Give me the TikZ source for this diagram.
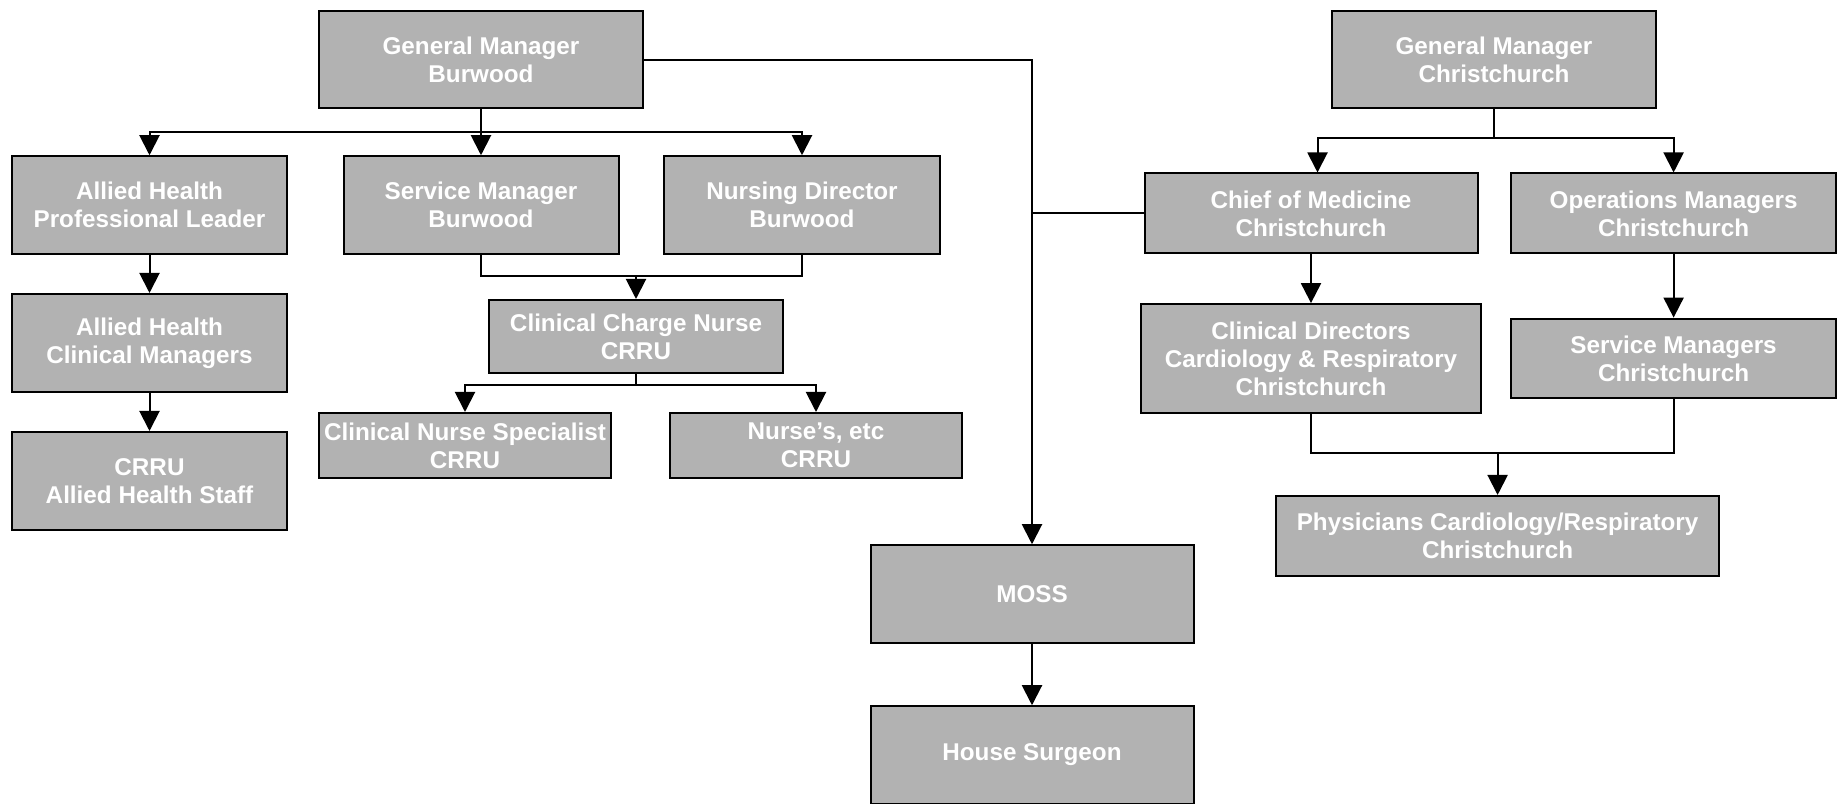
\documentclass[tikz,border=0pt]{standalone}
\usepackage{fontspec}
\setmainfont{Liberation Sans}
\usetikzlibrary{arrows.meta}
\definecolor{boxgray}{RGB}{178,178,178}

\begin{document}
\begin{tikzpicture}[x=0.4pt, y=-0.4pt, line width=0.8pt,
  orgbox/.style={draw=black, fill=boxgray, text=white, align=center, inner sep=0pt,
    font=\bfseries\fontsize{9.7}{11.2}\selectfont},
  arr/.style={-{Triangle[width=8pt,length=8pt]}}]
\useasboundingbox (0,0) rectangle (1847,804);

  % Burwood side
  \node[orgbox, minimum width=129.6pt, minimum height=38.8pt] (gmb) at (481,60) {General Manager\\Burwood};
  \node[orgbox, minimum width=110pt, minimum height=39pt] (ahpl) at (149.5,205) {Allied Health\\Professional Leader};
  \node[orgbox, minimum width=110pt, minimum height=39pt] (smb) at (481,205) {Service Manager\\Burwood};
  \node[orgbox, minimum width=110.4pt, minimum height=39pt] (ndb) at (802,205) {Nursing Director\\Burwood};
  \node[orgbox, minimum width=110pt, minimum height=39.2pt] (ahcm) at (149.5,343) {Allied Health\\Clinical Managers};
  \node[orgbox, minimum width=110pt, minimum height=39.2pt] (ahs) at (149.5,481) {CRRU\\Allied Health Staff};
  \node[orgbox, minimum width=117.6pt, minimum height=29.2pt] (ccn) at (636,336.5) {Clinical Charge Nurse\\CRRU};
  \node[orgbox, minimum width=116.8pt, minimum height=26pt] (cns) at (465,445.5) {Clinical Nurse Specialist\\CRRU};
  \node[orgbox, minimum width=116.8pt, minimum height=26pt] (nur) at (816,445.5) {Nurse’s, etc\\CRRU};

  % Medical staff
  \node[orgbox, minimum width=129.2pt, minimum height=39pt] (moss) at (1032,594) {MOSS};
  \node[orgbox, minimum width=129.2pt, minimum height=39pt] (hs) at (1032,755) {House Surgeon};

  % Christchurch side
  \node[orgbox, minimum width=129.6pt, minimum height=38.8pt] (gmc) at (1494,60) {General Manager\\Christchurch};
  \node[orgbox, minimum width=133.2pt, minimum height=32pt] (com) at (1311,213.5) {Chief of Medicine\\Christchurch};
  \node[orgbox, minimum width=129.8pt, minimum height=32pt] (opm) at (1673.6,213.5) {Operations Managers\\Christchurch};
  \node[orgbox, minimum width=135.8pt, minimum height=43.5pt] (cdr) at (1311,358.5) {Clinical Directors\\Cardiology \& Respiratory\\Christchurch};
  \node[orgbox, minimum width=129.8pt, minimum height=31.9pt] (smc) at (1673.6,358.5) {Service Managers\\Christchurch};
  \node[orgbox, minimum width=177.2pt, minimum height=32pt] (phy) at (1497.6,536) {Physicians Cardiology/Respiratory\\Christchurch};

  % Burwood links
  \coordinate (bbar) at (481,131.7);
  \draw (gmb.south) -- (bbar);
  \draw[arr] (bbar) -| (ahpl.north);
  \draw[arr] (bbar) -- (smb.north);
  \draw[arr] (bbar) -| (ndb.north);
  \draw[arr] (ahpl) -- (ahcm);
  \draw[arr] (ahcm) -- (ahs);

  \coordinate (njoin) at (636,276);
  \draw (smb.south) |- (njoin) -| (ndb.south);
  \draw[arr] (njoin) -- (ccn.north);
  \coordinate (cbar) at (636,385);
  \draw (ccn.south) -- (cbar);
  \draw[arr] (cbar) -| (cns.north);
  \draw[arr] (cbar) -| (nur.north);

  % MOSS links
  \draw[arr] (gmb.east) -| (moss.north);
  \draw (com.west) -- (com.west -| moss.north);
  \draw[arr] (moss) -- (hs);

  % Christchurch links
  \coordinate (cbar2) at (1494,137.7);
  \draw (gmc.south) -- (cbar2);
  \draw[arr] (cbar2) -| ([xshift=2.6pt]com.north);
  \draw[arr] (cbar2) -| (opm.north);
  \draw[arr] (com) -- (cdr);
  \draw[arr] (opm) -- (smc);
  \coordinate (pjoin) at (1497.6,453.3);
  \draw (cdr.south) |- (pjoin) -| (smc.south);
  \draw[arr] (pjoin) -- (phy.north);
\end{tikzpicture}
\end{document}
